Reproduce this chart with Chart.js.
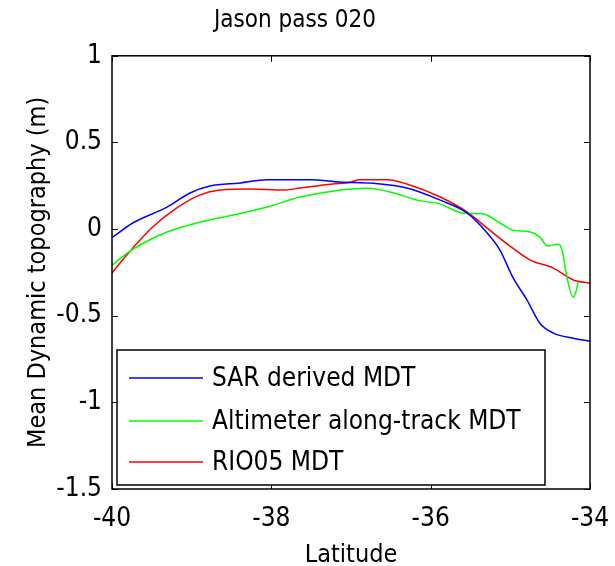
<!DOCTYPE html>
<html>
<head>
<meta charset="utf-8">
<script src="https://cdn.jsdelivr.net/npm/chart.js"></script>
<style>
  html, body { margin: 0; padding: 0; background: #fff; }
  #wrap { width: 615px; height: 566px; }
</style>
</head>
<body>
<div id="wrap"><canvas id="myChart" width="615" height="566"></canvas></div>
<script>
// values
const sarLat = [-40, -39.74, -39.31, -39.02, -38.77, -38.39, -38.05, -37.51, -37.14, -36.72, -36.30, -35.88, -35.54, -35.29, -35.13, -34.97, -34.79, -34.63, -34.46, -34.21, -34.0];
const sarMdt = [-0.05, 0.035, 0.127, 0.208, 0.248, 0.266, 0.285, 0.285, 0.272, 0.264, 0.237, 0.167, 0.092, -0.023, -0.121, -0.277, -0.41, -0.543, -0.60, -0.63, -0.647];

const altLat = [-40, -39.81, -39.65, -39.31, -38.90, -38.48, -38.05, -37.64, -37.23, -36.80, -36.51, -36.17, -35.88, -35.59, -35.34, -35.13, -34.97, -34.75, -34.63, -34.53, -34.40, -34.35, -34.29, -34.21, -34.17, -34.15];
const altMdt = [-0.208, -0.139, -0.092, -0.017, 0.040, 0.081, 0.127, 0.185, 0.219, 0.235, 0.214, 0.167, 0.144, 0.092, 0.087, 0.035, -0.006, -0.017, -0.046, -0.098, -0.087, -0.121, -0.277, -0.393, -0.352, -0.306];

const rioLat = [-40, -39.90, -39.74, -39.49, -39.19, -38.90, -38.64, -38.27, -37.85, -37.64, -37.23, -37.01, -36.89, -36.54, -36.30, -35.88, -35.54, -35.26, -34.97, -34.75, -34.46, -34.21, -34.0];
const rioMdt = [-0.254, -0.196, -0.110, 0.012, 0.121, 0.196, 0.225, 0.231, 0.225, 0.237, 0.260, 0.270, 0.285, 0.285, 0.260, 0.185, 0.098, -0.006, -0.110, -0.179, -0.225, -0.294, -0.312];

const seriesNames = ['SAR derived MDT', 'Altimeter along-track MDT', 'RIO05 MDT'];
const seriesColors = ['#0000ff', '#00ff00', '#ff0000'];
const xTicks = [-40, -38, -36, -34];
const yTicks = [1, 0.5, 0, -0.5, -1, -1.5];

const FONT = '"DejaVu Sans Condensed", "Liberation Sans Narrow", "Liberation Sans", sans-serif';

function pts(xs, ys) {
  return xs.map((x, i) => ({ x: x, y: ys[i] }));
}

// box round the plot, inward ticks on all four sides, legend inside
const matlabAxes = {
  id: 'matlabAxes',
  afterDatasetsDraw(chart) {
    const ctx = chart.ctx;
    const a = chart.chartArea;
    const xs = chart.scales.x, ys = chart.scales.y;
    ctx.save();
    ctx.strokeStyle = '#000';
    ctx.lineWidth = 1.5;
    ctx.strokeRect(a.left, a.top, a.right - a.left, a.bottom - a.top);
    ctx.lineWidth = 1;
    const t = 6;
    xTicks.forEach(v => {
      const p = Math.round(xs.getPixelForValue(v)) + 0.5;
      ctx.beginPath();
      ctx.moveTo(p, a.bottom); ctx.lineTo(p, a.bottom - t);
      ctx.moveTo(p, a.top); ctx.lineTo(p, a.top + t);
      ctx.stroke();
    });
    yTicks.forEach(v => {
      const p = Math.round(ys.getPixelForValue(v)) + 0.5;
      ctx.beginPath();
      ctx.moveTo(a.left, p); ctx.lineTo(a.left + t, p);
      ctx.moveTo(a.right, p); ctx.lineTo(a.right - t, p);
      ctx.stroke();
    });

    // legend
    const lx = a.left + 5, ly = 350, lw = 428, lh = 135;
    ctx.fillStyle = '#fff';
    ctx.fillRect(lx, ly, lw, lh);
    ctx.strokeStyle = '#000';
    ctx.lineWidth = 1.5;
    ctx.strokeRect(lx, ly, lw, lh);
    const rows = [378, 421, 462];
    ctx.font = '26px ' + FONT;
    ctx.textBaseline = 'middle';
    ctx.textAlign = 'left';
    chart.data.datasets.forEach((ds, i) => {
      ctx.strokeStyle = ds.borderColor;
      ctx.lineWidth = 1.5;
      ctx.beginPath();
      ctx.moveTo(lx + 12, rows[i]);
      ctx.lineTo(lx + 86, rows[i]);
      ctx.stroke();
      ctx.fillStyle = '#000';
      ctx.fillText(ds.label, lx + 95, rows[i] + 1);
    });
    ctx.restore();
  }
};

const ctx = document.getElementById('myChart').getContext('2d');
const myChart = new Chart(ctx, {
  type: 'line',
  data: {
    datasets: [
      { label: seriesNames[0], data: pts(sarLat, sarMdt), borderColor: seriesColors[0] },
      { label: seriesNames[1], data: pts(altLat, altMdt), borderColor: seriesColors[1] },
      { label: seriesNames[2], data: pts(rioLat, rioMdt), borderColor: seriesColors[2] }
    ].map(d => Object.assign(d, { borderWidth: 1.5, pointRadius: 0, fill: false, cubicInterpolationMode: 'monotone' }))
  },
  options: {
    responsive: false,
    animation: false,
    layout: { padding: { left: 0, right: 25, top: 0, bottom: 0 } },
    plugins: {
      legend: { display: false },
      tooltip: { enabled: false },
      title: {
        display: true,
        text: 'Jason pass 020',
        color: '#000',
        font: { family: FONT, size: 24, weight: 'normal' },
        padding: { top: 6, bottom: 21 }
      }
    },
    scales: {
      x: {
        type: 'linear',
        min: -40, max: -34,
        afterBuildTicks: s => { s.ticks = xTicks.map(v => ({ value: v })); },
        afterFit: s => { s.height = 77; s.paddingLeft = 0; s.paddingRight = 0; },
        grid: { display: false, drawTicks: false, tickLength: 0 },
        border: { display: false },
        ticks: { color: '#000', font: { family: FONT, size: 26 }, padding: 15, maxRotation: 0, callback: v => String(v) },
        title: { display: true, text: 'Latitude', color: '#000', font: { family: FONT, size: 25, lineHeight: 0.85 }, padding: { top: 0, bottom: 0 } }
      },
      y: {
        type: 'linear',
        min: -1.5, max: 1,
        afterBuildTicks: s => { s.ticks = yTicks.map(v => ({ value: v })); },
        afterFit: s => { s.width = 112; },
        grid: { display: false, drawTicks: false, tickLength: 0 },
        border: { display: false },
        ticks: { color: '#000', font: { family: FONT, size: 26 }, padding: 10, callback: v => String(v) },
        title: { display: true, text: 'Mean Dynamic topography (m)', color: '#000', font: { family: FONT, size: 25, lineHeight: 1 }, padding: { top: 26, bottom: 0 } }
      }
    }
  },
  plugins: [matlabAxes]
});
</script>
</body>
</html>
